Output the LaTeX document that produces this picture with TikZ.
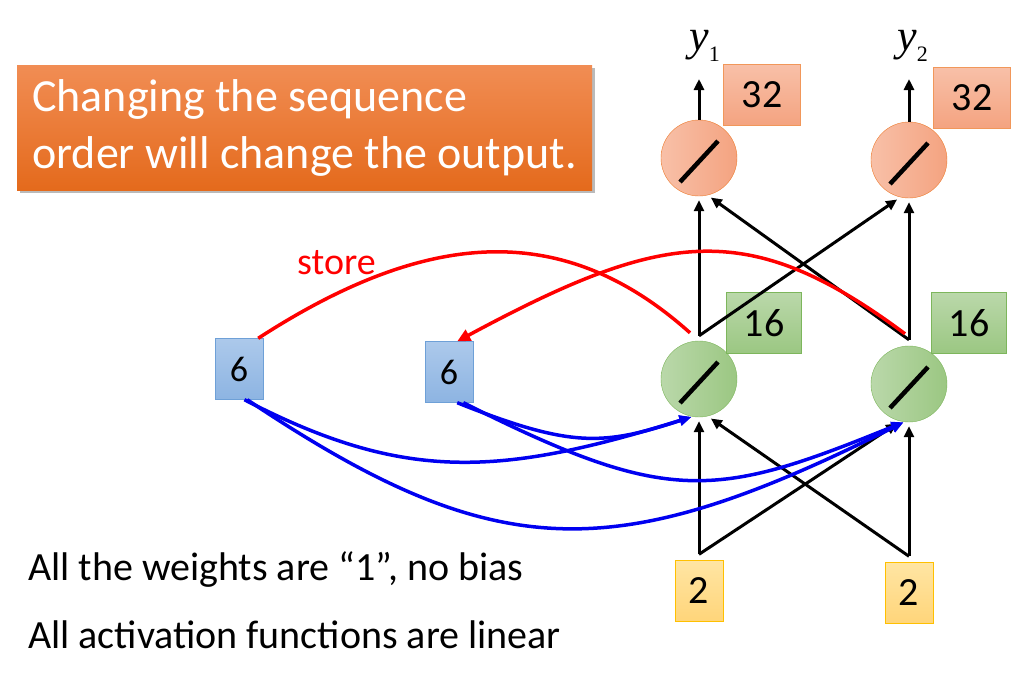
\documentclass[tikz,border=0pt]{standalone}
\usepackage{fontspec}
\setmainfont{Carlito}
\newfontfamily\timesfont{Liberation Serif}
\usetikzlibrary{arrows.meta, shadows, calc}

\definecolor{colTitleTop}{RGB}{241,141,84}
\definecolor{colTitleBot}{RGB}{228,106,28}
\definecolor{colOutA}{RGB}{248,192,168}
\definecolor{colOutB}{RGB}{244,163,128}
\definecolor{colOutLine}{RGB}{237,125,49}
\definecolor{colHidA}{RGB}{186,216,170}
\definecolor{colHidB}{RGB}{155,199,130}
\definecolor{colHidLine}{RGB}{125,182,92}
\definecolor{colMemA}{RGB}{172,201,235}
\definecolor{colMemB}{RGB}{141,180,226}
\definecolor{colMemLine}{RGB}{110,160,215}
\definecolor{colInA}{RGB}{255,229,163}
\definecolor{colInB}{RGB}{255,213,122}
\definecolor{colInLine}{RGB}{255,192,0}
\definecolor{colBlue}{RGB}{0,0,240}
\definecolor{colRed}{RGB}{255,0,0}

\tikzset{
    neuron/.style={circle, minimum size=76pt, inner sep=0pt,
        path picture={\draw[black, line width=4.5pt]
            ([xshift=-19pt,yshift=-24pt]path picture bounding box.center) -- ++(38pt,41pt);}},
    outneuron/.style={neuron, draw=colOutLine, left color=colOutA, right color=colOutB},
    hidneuron/.style={neuron, draw=colHidLine, left color=colHidA, right color=colHidB},
    valbox/.style={rectangle, inner sep=0pt, minimum height=61pt, font=\fontsize{40}{40}\selectfont},
    outbox/.style={valbox, minimum width=77pt, draw=colOutLine!80, top color=colOutA, bottom color=colOutB},
    hidbox/.style={valbox, minimum width=75pt, draw=colHidLine, top color=colHidA, bottom color=colHidB},
    membox/.style={valbox, minimum width=48pt, draw=colMemLine, top color=colMemA, bottom color=colMemB,
        font=\fontsize{36}{36}\selectfont},
    inbox/.style={valbox, minimum width=48pt, draw=colInLine, top color=colInA, bottom color=colInB},
    conn/.style={line width=3pt, shorten >=4pt, -{Triangle[length=11pt,width=10pt]}},
    blueconn/.style={colBlue, line width=3.5pt, shorten >=1pt, -{Triangle[length=12pt,width=10pt]}},
    redconn/.style={colRed, line width=3.5pt},
    ylabel/.style={anchor=base west, inner sep=0pt, font=\timesfont\fontsize{44}{44}\selectfont}
}

\begin{document}
\begin{tikzpicture}[x=1pt, y=-1pt]
    \fill[white] (0,0) rectangle (1026,678);
    \useasboundingbox (0,0) rectangle (1026,678);

    % --- Judul ---
    \node[rectangle, top color=colTitleTop, bottom color=colTitleBot,
          minimum width=575pt, minimum height=125pt, inner sep=0pt,
          align=left, text=white, font=\fontsize{46}{57}\selectfont,
          drop shadow={shadow xshift=3pt, shadow yshift=-3pt, opacity=0.45, fill=black!60}]
          (title) at (304.5,127.5) {Changing the sequence\\order will change the output.};

    % --- Output layer ---
    \node[outneuron] (O1) at (699,158) {};
    \node[outneuron] (O2) at (909,160) {};
    \node[outbox] (v32a) at (762,95) {32};
    \node[outbox] (v32b) at (972,98) {32};
    \node[ylabel] (y1) at (689,50) {\textit{y}\raisebox{-11pt}{\fontsize{22}{22}\selectfont 1}};
    \node[ylabel] (y2) at (897,50) {\textit{y}\raisebox{-11pt}{\fontsize{22}{22}\selectfont 2}};
    \coordinate (out1) at (699,79);
    \coordinate (out2) at (909,79);
    \draw[conn, shorten >=0pt] (O1.north) -- (out1);
    \draw[conn, shorten >=0pt] (O2.north) -- (out2);

    % --- Hidden layer ---
    \node[hidneuron] (H1) at (699,379) {};
    \node[hidneuron] (H2) at (909,384) {};
    \node[hidbox] (v16a) at (764,323) {16};
    \node[hidbox] (v16b) at (969,323) {16};

    % --- Memory ---
    \node[membox] (six1) at (239,369) {6};
    \node[membox] (six2) at (449,372) {6};

    % --- Input ---
    \node[inbox] (two1) at (699,591) {2};
    \node[inbox] (two2) at (909,593) {2};

    % Panah input -> hidden
    \coordinate (in1) at ([yshift=6pt]two1.north);
    \coordinate (in2) at ([yshift=6pt]two2.north);
    \draw[conn] (in1) -- (H1.south);
    \draw[conn] (in1) -- (H2.-103);
    \draw[conn] (in2) -- (H2.south);
    \draw[conn] (in2) -- (H1.-77);

    % Panah hidden -> output
    \coordinate (h1top) at ([yshift=5pt]H1.north);
    \coordinate (h2top) at ([yshift=6pt]H2.north);
    \draw[conn] (h1top) -- (O1.south);
    \draw[conn] (h1top) -- (O2.-103);
    \draw[conn] (h2top) -- (O2.south);
    \draw[conn] (h2top) -- (O1.-77);

    % Panah memory -> hidden
    \draw[blueconn] (six1.-80) .. controls (403,482) and (498,477) .. (H1.-100);
    \draw[blueconn] (six1.-75) .. controls (497,567) and (614,567) .. (H2.-97);
    \draw[blueconn] (six2.-75) .. controls (573,449) and (604,445) .. (H1.-100);
    \draw[blueconn] (six2.-65) .. controls (669,506) and (715,499) .. (H2.-97);

    % Store (merah)
    \coordinate (h1store) at ([xshift=-9pt,yshift=8pt]H1.north);
    \coordinate (h2store) at ([xshift=-4pt,yshift=12pt]H2.north);
    \draw[redconn] (six1.58) .. controls (427,229) and (563,219) .. (h1store);
    \draw[redconn, -{Triangle[length=13pt,width=12pt]}] (h2store) .. controls (748,217) and (664,230) .. (six2.75);
    \node[colRed, anchor=base west, inner sep=0pt, font=\fontsize{38}{38}\selectfont] (store) at (297,274) {store};

    % Keterangan bawah
    \node[anchor=base west, inner sep=0pt, font=\fontsize{40}{40}\selectfont] (note1) at (28,580) {All the weights are “1”, no bias};
    \node[anchor=base west, inner sep=0pt, font=\fontsize{40}{40}\selectfont] (note2) at (28,648) {All activation functions are linear};

\end{tikzpicture}
\end{document}
